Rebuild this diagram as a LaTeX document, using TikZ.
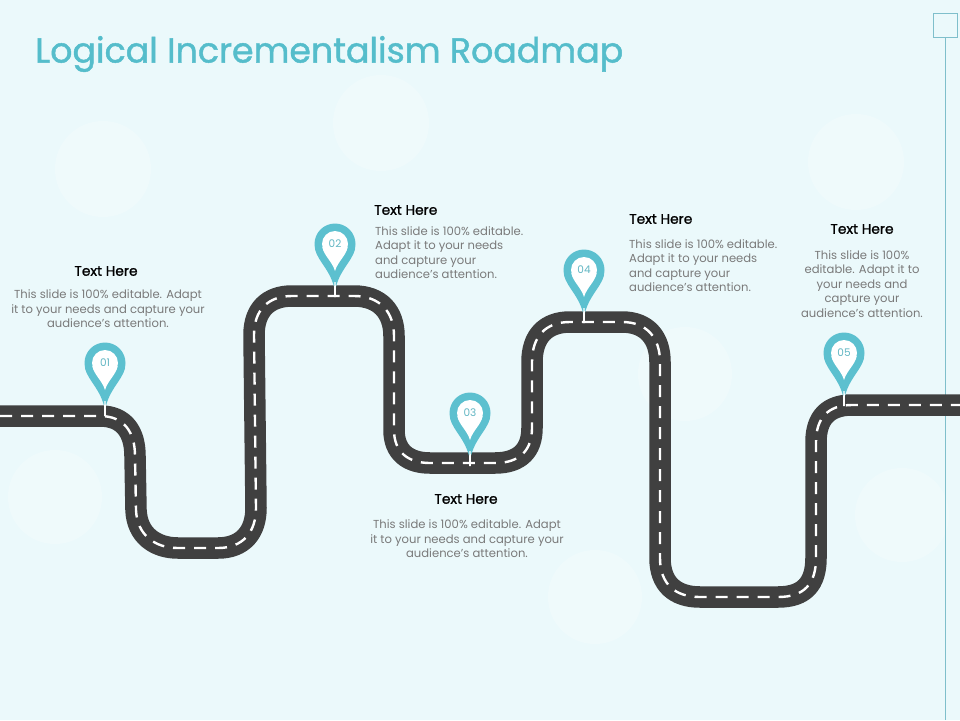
\documentclass[tikz,border=0pt]{standalone}
\usepackage{fontspec}
\setmainfont{Poppins}
\newfontfamily\titlefont[FakeBold=1.2]{Poppins}
\newfontfamily\headfont[FakeBold=1.1]{Poppins}
\definecolor{bgc}{HTML}{EBF9FB}
\definecolor{road}{HTML}{404040}
\definecolor{teal}{HTML}{5CC0CF}
\definecolor{ttl}{HTML}{55BDCB}
\definecolor{bodyc}{HTML}{7A7A7A}
\definecolor{frameline}{HTML}{7FBFCB}
\tikzset{
  x=1pt,y=-1pt,
  roadbed/.style={draw=road,line width=21.5pt,line join=round},
  roadmark/.style={draw=white,line width=2.4pt,dash pattern=on 12pt off 9pt},
  heading/.style={font=\headfont\fontsize{13.8}{16}\selectfont,text=black,inner sep=0pt},
  bodytext/.style={font=\fontsize{11.6}{14.5}\selectfont,text=bodyc,inner sep=0pt,align=center},
  bodyleft/.style={bodytext,align=left,anchor=north west},
  pinnum/.style={font=\fontsize{10.5}{12}\selectfont,text=teal!85!gray,inner sep=0pt},
  blob/.style={fill=white,fill opacity=0.22,draw=none},
}
\newcommand{\roadpath}{(0,416) -- (100,416) .. controls (124,416) and (135,432) .. (135,456) -- (136,510) .. controls (137,535) and (155,548) .. (178,548) -- (218,548) .. controls (243,548) and (256,532) .. (256,508) -- (254,335) .. controls (254,310) and (268,296) .. (292,296) -- (354,296) .. controls (380,296) and (394,312) .. (394,336) -- (394,430) .. controls (394,452) and (408,463) .. (430,463) -- (495,463) .. controls (520,463) and (532,450) .. (532,428) -- (532,362) .. controls (532,336) and (546,322) .. (570,322) -- (622,322) .. controls (647,322) and (660,338) .. (660,362) -- (660,558) .. controls (660,584) and (675,597) .. (700,597) -- (778,597) .. controls (804,597) and (816,584) .. (816,558) -- (816,442) .. controls (816,418) and (828,405) .. (852,405) -- (960,405)}
\newcommand{\mappin}[4]{%
  \begin{scope}[shift={(#2,#3)}]
    \fill[teal] (0,0) circle (20.5pt);
    \fill[teal] (-20,5) .. controls (-17,18) and (-4,26) .. (0,47) .. controls (4,26) and (17,18) .. (20,5) -- cycle;
    \fill[white] (0,0) circle (13pt);
    \fill[white] (-12.7,3) .. controls (-11,12) and (-3,17) .. (0,27) .. controls (3,17) and (11,12) .. (12.7,3) -- cycle;
    \fill[white] (-0.7,38) -- (0.7,38) -- (0.9,53) -- (-0.9,53) -- cycle;
    \node[pinnum] (#1) at (0,0) {#4};
  \end{scope}
}
\begin{document}
\begin{tikzpicture}
\useasboundingbox (0,0) rectangle (960,720);
\fill[bgc] (0,0) rectangle (960,720);
% faded discs
\fill[blob] (103,169) circle (48pt);
\fill[blob] (381,123) circle (48pt);
\fill[blob] (856,162) circle (48pt);
\fill[blob] (55,497) circle (47pt);
\fill[blob] (685,374) circle (47pt);
\fill[blob] (902,515) circle (47pt);
\fill[blob] (595,597) circle (47pt);
% corner frame
\node[draw=frameline,line width=1pt,minimum size=24pt,inner sep=0pt] (corner) at (945.5,25) {};
\coordinate (cornerend) at (945.5,720);
\draw[frameline,line width=1pt] (corner.south) -- (cornerend);
% title
\node[anchor=west,inner sep=0pt,text=ttl,font=\titlefont\fontsize{34.8}{40}\selectfont] (title) at (35,54) {Logical Incrementalism Roadmap};
% road
\draw[roadbed] \roadpath;
\draw[roadmark] \roadpath;
% pins
\mappin{p1}{105}{363}{01}
\mappin{p2}{335}{244}{02}
\mappin{p3}{470}{413}{03}
\mappin{p4}{584}{270}{04}
\mappin{p5}{844}{353}{05}
% texts
\node[heading] (h1) at (106,271) {Text Here};
\node[bodytext] (b1) at (108,309) {This slide is 100\% editable. Adapt\\it to your needs and capture your\\audience's attention.};
\node[heading,anchor=west] (h2) at (374,210) {Text Here};
\node[bodyleft] (b2) at (375,226) {This slide is 100\% editable.\\Adapt it to your needs\\and capture your\\audience's attention.};
\node[heading] (h3) at (466,499) {Text Here};
\node[bodytext] (b3) at (467,539) {This slide is 100\% editable. Adapt\\it to your needs and capture your\\audience's attention.};
\node[heading,anchor=west] (h4) at (629,219) {Text Here};
\node[bodyleft] (b4) at (629,239) {This slide is 100\% editable.\\Adapt it to your needs\\and capture your\\audience's attention.};
\node[heading] (h5) at (862,229) {Text Here};
\node[bodytext] (b5) at (862,284) {This slide is 100\%\\editable. Adapt it to\\your needs and\\capture your\\audience's attention.};
\end{tikzpicture}
\end{document}
